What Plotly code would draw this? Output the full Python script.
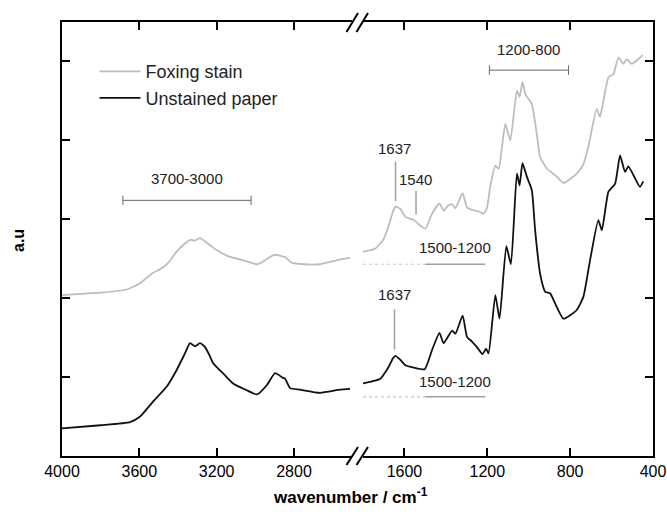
import plotly.graph_objects as go

# ---------------- data ----------------
# Foxing stain (grey) – high wavenumber region
fox_hi_wn = [4000, 3800, 3665, 3596, 3536, 3484, 3450, 3407, 3370, 3338, 3312, 3286, 3245, 3200,
             3148, 3050, 2990, 2950, 2903, 2846, 2812, 2750, 2665, 2580, 2510]
fox_hi_y = [2.04, 2.07, 2.11, 2.19, 2.31, 2.38, 2.45, 2.59, 2.68, 2.74, 2.73, 2.76, 2.69, 2.61,
            2.54, 2.47, 2.43, 2.48, 2.55, 2.52, 2.45, 2.43, 2.43, 2.48, 2.51]
# Foxing stain – fingerprint region
fox_lo_wn = [1800, 1740, 1700, 1676, 1655, 1643, 1619, 1595, 1555, 1523, 1499, 1467, 1431, 1411,
             1390, 1370, 1354, 1319, 1298, 1274, 1242, 1218, 1202, 1186, 1161, 1145, 1113, 1089,
             1057, 1044, 1030, 1017, 985, 961, 945, 912, 872, 832, 768, 736, 712, 672, 656, 615,
             591, 567, 543, 527, 503, 479, 450]
fox_lo_y = [2.59, 2.63, 2.75, 2.92, 3.10, 3.16, 3.13, 3.03, 2.99, 2.92, 2.88, 3.07, 3.20, 3.11,
            3.17, 3.19, 3.14, 3.33, 3.15, 3.12, 3.10, 3.07, 3.14, 3.41, 3.68, 3.64, 4.21, 4.00,
            4.63, 4.55, 4.74, 4.59, 4.46, 4.08, 3.79, 3.64, 3.56, 3.46, 3.58, 3.70, 3.92, 4.40,
            4.30, 4.80, 4.84, 5.05, 4.97, 5.03, 4.97, 5.01, 5.08]

# Unstained paper (black) – high wavenumber region
uns_hi_wn = [4000, 3800, 3648, 3596, 3529, 3458, 3407, 3364, 3338, 3312, 3286, 3260, 3234, 3219,
             3160, 3115, 3050, 2991, 2940, 2898, 2857, 2846, 2820, 2769, 2665, 2562, 2510]
uns_hi_y = [0.35, 0.39, 0.43, 0.50, 0.69, 0.88, 1.09, 1.30, 1.43, 1.39, 1.43, 1.38, 1.26, 1.18,
            1.03, 0.92, 0.84, 0.78, 0.90, 1.05, 0.99, 0.98, 0.86, 0.84, 0.80, 0.84, 0.85]
# Unstained paper – fingerprint region
uns_lo_wn = [1800, 1716, 1676, 1655, 1643, 1620, 1595, 1555, 1502, 1467, 1431, 1411, 1370, 1354,
             1319, 1298, 1274, 1250, 1223, 1206, 1194, 1161, 1141, 1108, 1086, 1057, 1044, 1030,
             1009, 985, 969, 945, 920, 896, 872, 832, 768, 736, 704, 664, 647, 615, 583, 559,
             535, 519, 487, 463, 447]
uns_lo_y = [0.92, 0.98, 1.13, 1.24, 1.27, 1.22, 1.15, 1.12, 1.10, 1.34, 1.56, 1.43, 1.59, 1.55,
            1.78, 1.51, 1.45, 1.38, 1.29, 1.36, 1.30, 2.04, 1.74, 2.66, 2.43, 3.58, 3.43, 3.71,
            3.54, 3.37, 2.86, 2.31, 2.08, 2.06, 1.93, 1.74, 1.85, 2.02, 2.48, 2.99, 2.86, 3.35,
            3.45, 3.81, 3.60, 3.67, 3.52, 3.41, 3.48]

series_names = ["Foxing stain", "Unstained paper"]
hi_ticks = [4000, 3600, 3200, 2800]
lo_ticks = [1600, 1200, 800, 400]
y_ticks = [1, 2, 3, 4, 5]

# band annotations (wavenumber ranges / positions and heights)
band_hi = [3685, 3022]           # 3700-3000 bracket
band_hi_y = 3.24
band_hi_label = "3700-3000"
band_fp = [1190, 808]            # 1200-800 bracket
band_fp_y = 4.89
band_fp_label = "1200-800"
band_mid_dot = [1800, 1499]      # dotted part of 1500-1200 line
band_mid = [1499, 1210]          # solid part
band_mid_y = [2.43, 0.75]
band_mid_label_y = [2.64, 0.94]
band_mid_label = "1500-1200"
peak_fox = [1643, 1544]
peak_fox_lbl = ["1637", "1540"]
peak_fox_span = [[3.23, 3.73], [3.06, 3.36]]
peak_fox_lbl_pos = [[1646, 3.90], [1547, 3.51]]
peak_uns = 1648
peak_uns_span = [1.35, 1.86]
peak_uns_lbl_y = 2.05

FONT = "Liberation Sans, Arial, sans-serif"
GREY = "#bdbdbd"
BLACK = "#111111"

fig = go.Figure()
line_kw = dict(width=1.8, shape="spline", smoothing=0.5)
fig.add_trace(go.Scatter(x=fox_hi_wn, y=fox_hi_y, mode="lines", name=series_names[0],
                         line=dict(color=GREY, **line_kw), xaxis="x", yaxis="y",
                         legendgroup="f"))
fig.add_trace(go.Scatter(x=fox_lo_wn, y=fox_lo_y, mode="lines", name=series_names[0],
                         line=dict(color=GREY, **line_kw), xaxis="x2", yaxis="y2",
                         legendgroup="f", showlegend=False))
fig.add_trace(go.Scatter(x=uns_hi_wn, y=uns_hi_y, mode="lines", name=series_names[1],
                         line=dict(color=BLACK, **line_kw), xaxis="x", yaxis="y",
                         legendgroup="u"))
fig.add_trace(go.Scatter(x=uns_lo_wn, y=uns_lo_y, mode="lines", name=series_names[1],
                         line=dict(color=BLACK, **line_kw), xaxis="x2", yaxis="y2",
                         legendgroup="u", showlegend=False))

axis_common = dict(showline=True, linecolor="black", linewidth=2, ticks="inside", ticklen=8,
                   tickwidth=2, tickcolor="black", showgrid=False, zeroline=False,
                   automargin=False,
                   tickfont=dict(size=16, family=FONT, color="black"))

fig.update_layout(
    template="none",
    width=667, height=517, autosize=False,
    margin=dict(l=62, r=14, t=22, b=61, pad=0),
    paper_bgcolor="white", plot_bgcolor="white",
    font=dict(family=FONT, color="black"),
    xaxis=dict(domain=[0, 290 / 591], range=[4000, 2500], tickvals=hi_ticks, anchor="y",
               mirror="ticks", **axis_common),
    xaxis2=dict(domain=[301 / 591, 1], range=[1800, 400], tickvals=lo_ticks, anchor="y2",
                mirror="ticks", **axis_common),
    yaxis=dict(range=[0, 5.5], tickvals=y_ticks, showticklabels=False, anchor="x",
               **axis_common),
    yaxis2=dict(range=[0, 5.5], tickvals=y_ticks, showticklabels=False, anchor="x2",
                side="right", matches="y", **axis_common),
    legend=dict(x=0.055, y=0.928, xanchor="left", yanchor="top", bgcolor="rgba(0,0,0,0)",
                font=dict(size=18, family=FONT, color="#222"), itemwidth=41,
                tracegroupgap=0, borderwidth=0),
    showlegend=True,
)

shapes = []
BR = "#666666"
# 3700-3000 bracket
shapes.append(dict(type="line", xref="x", yref="y", x0=band_hi[0], x1=band_hi[1],
                   y0=band_hi_y, y1=band_hi_y, line=dict(color=BR, width=1)))
for xv in band_hi:
    shapes.append(dict(type="line", xref="x", yref="y", x0=xv, x1=xv, y0=band_hi_y - 0.06,
                       y1=band_hi_y + 0.06, line=dict(color=BR, width=1)))
# 1200-800 bracket
shapes.append(dict(type="line", xref="x2", yref="y2", x0=band_fp[0], x1=band_fp[1],
                   y0=band_fp_y, y1=band_fp_y, line=dict(color=BR, width=1)))
for xv in band_fp:
    shapes.append(dict(type="line", xref="x2", yref="y2", x0=xv, x1=xv, y0=band_fp_y - 0.06,
                       y1=band_fp_y + 0.06, line=dict(color=BR, width=1)))
# 1500-1200 lines
for yv in band_mid_y:
    shapes.append(dict(type="line", xref="x2", yref="y2", x0=band_mid_dot[0], x1=band_mid_dot[1],
                       y0=yv, y1=yv, line=dict(color="#c8c8c8", width=1.2, dash="dot")))
    shapes.append(dict(type="line", xref="x2", yref="y2", x0=band_mid[0], x1=band_mid[1],
                       y0=yv, y1=yv, line=dict(color="#a0a0a0", width=1.5)))
# peak marker lines
for xv, sp in zip(peak_fox, peak_fox_span):
    shapes.append(dict(type="line", xref="x2", yref="y2", x0=xv, x1=xv, y0=sp[0], y1=sp[1],
                       line=dict(color="#a0a0a0", width=1.5)))
shapes.append(dict(type="line", xref="x2", yref="y2", x0=peak_uns, x1=peak_uns,
                   y0=peak_uns_span[0], y1=peak_uns_span[1],
                   line=dict(color="#a0a0a0", width=1.5)))


# axis break marks (paper coordinates)
def px(xp):
    return (xp - 62) / 591


def py(yp):
    return (456 - yp) / 434


for (ytop, ybot) in [(13, 32), (447, 465)]:
    for xo in [0, 10]:
        shapes.append(dict(type="line", xref="paper", yref="paper",
                           x0=px(346.5 + xo), y0=py(ybot), x1=px(358 + xo), y1=py(ytop),
                           line=dict(color="black", width=2)))
fig.update_layout(shapes=shapes)

ann_font = dict(size=15, family=FONT, color="#222")
anns = []
anns.append(dict(x=sum(band_hi) / 2, y=3.52, xref="x", yref="y", text=band_hi_label,
                 showarrow=False, font=ann_font))
anns.append(dict(x=sum(band_fp) / 2, y=5.15, xref="x2", yref="y2", text=band_fp_label,
                 showarrow=False, font=ann_font))
for yv in band_mid_label_y:
    anns.append(dict(x=1354, y=yv, xref="x2", yref="y2", text=band_mid_label,
                     showarrow=False, font=ann_font))
for lbl, pos in zip(peak_fox_lbl, peak_fox_lbl_pos):
    anns.append(dict(x=pos[0], y=pos[1], xref="x2", yref="y2", text=lbl,
                     showarrow=False, font=ann_font))
anns.append(dict(x=1648, y=peak_uns_lbl_y, xref="x2", yref="y2", text="1637",
                 showarrow=False, font=ann_font))
# axis titles
anns.append(dict(x=px(350), y=py(509), xref="paper", yref="paper",
                 text="<b>wavenumber / cm<sup>-1</sup></b>", showarrow=False,
                 font=dict(size=17, family=FONT, color="black")))
anns.append(dict(x=px(18), y=py(241), xref="paper", yref="paper", text="<b>a.u</b>",
                 xanchor="center", yanchor="middle",
                 textangle=-90, showarrow=False,
                 font=dict(size=16, family=FONT, color="black")))
fig.update_layout(annotations=anns)

fig.write_html("out.html")
